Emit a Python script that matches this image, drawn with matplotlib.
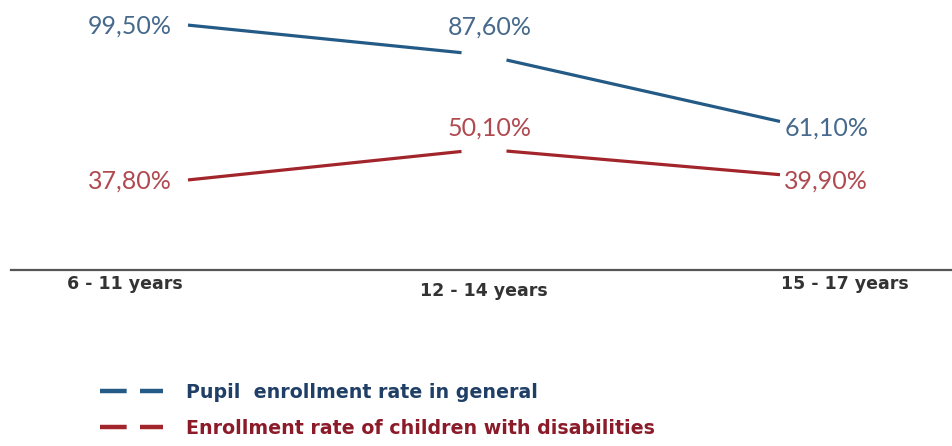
import numpy as np
import matplotlib.pyplot as plt
from matplotlib.lines import Line2D

# data
age_groups = ["6 - 11 years", "12 - 14 years", "15 - 17 years"]
general_rate = [99.5, 87.6, 61.1]
disability_rate = [37.8, 50.1, 39.9]
series_names = ["Pupil  enrollment rate in general",
                "Enrollment rate of children with disabilities"]

line_colors = ["#245a86", "#a3252c"]
text_colors = ["#46698c", "#b04a50"]
legend_text_colors = ["#1f3f66", "#8c1b2a"]

num_font = ["Lato", "DejaVu Sans"]
lbl_font = ["DejaVu Sans"]

fig = plt.figure(figsize=(9.52, 4.46), dpi=100)
ax = fig.add_axes([0, 0, 1, 1])
ax.set_xlim(-0.635, 2.581)
ax.set_ylim(-68.2, 109.5)
ax.axis("off")

x = np.arange(len(age_groups))
gap = 0.076  # gap around the middle point


def fmt(v):
    return f"{v:.2f}".replace(".", ",") + "%"


for vals, lc, tc, up in zip([general_rate, disability_rate], line_colors, text_colors, [11, 8.5]):
    vals = np.array(vals)
    # two segments, with a little gap at the middle point
    for a, b in [(0, 1), (1, 2)]:
        xa, xb = x[a], x[b]
        ya, yb = vals[a], vals[b]
        if a == 1:
            t = gap / (xb - xa)
            xa, ya = xa + gap, ya + (yb - ya) * t
        if b == 1:
            t = gap / (xb - xa)
            xb, yb = xb - gap, yb - (yb - ya) * t
        ax.plot([xa, xb], [ya, yb], color=lc, lw=2.3, solid_capstyle="butt")
    ax.text(x[0] - 0.055, vals[0] - 0.5, fmt(vals[0]), color=tc, fontsize=18,
            family=num_font, ha="right", va="center")
    ax.text(x[1] + 0.02, vals[1] + up, fmt(vals[1]), color=tc, fontsize=18,
            family=num_font, ha="center", va="center")
    ax.text(x[2] + 0.015, vals[2] - 2.5, fmt(vals[2]), color=tc, fontsize=18,
            family=num_font, ha="left", va="center")

# baseline
baseline = 2
ax.axhline(baseline, xmin=0.012, xmax=1, color="#555555", lw=1.6)

label_x = [-0.213, 1.0, 2.22]
label_y = [-3.7, -6.5, -3.7]
for lx, ly, name in zip(label_x, label_y, age_groups):
    ax.text(lx, ly, name, color="#333333", fontsize=12.5, fontweight="bold",
            family=lbl_font, ha="center", va="center")

handles = [Line2D([], [], color=c, lw=3.2, ls=(0, (6, 3))) for c in line_colors]
leg = fig.legend(handles, series_names, loc="upper left",
                 bbox_to_anchor=(100 / 952, 1 - 383 / 446), frameon=False,
                 handlelength=3.3, handletextpad=1.2, labelspacing=0.88,
                 borderpad=0, borderaxespad=0,
                 prop={"family": lbl_font, "size": 13.7, "weight": "bold"})
for t, c in zip(leg.get_texts(), legend_text_colors):
    t.set_color(c)

fig.savefig("out.png", dpi=100, facecolor="white")
